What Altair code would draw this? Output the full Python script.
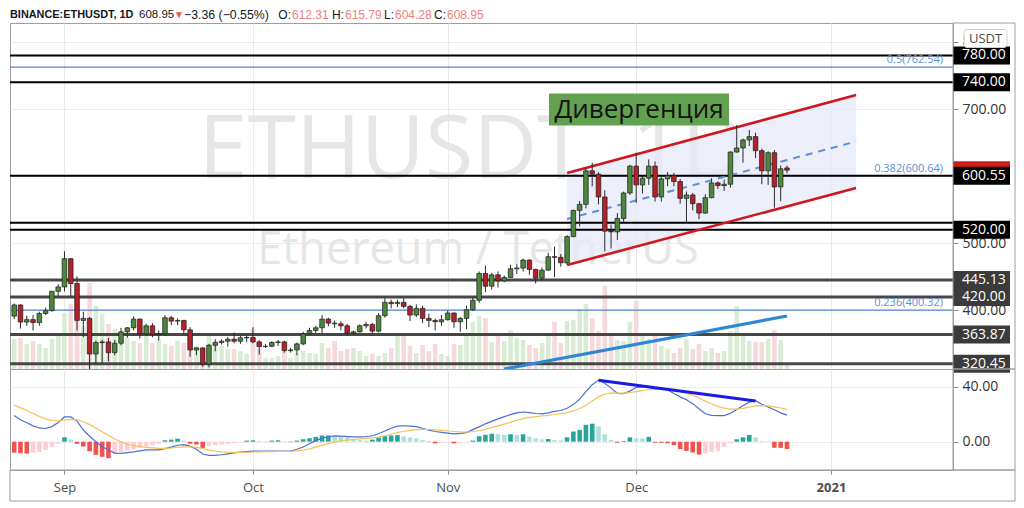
import altair as alt
import numpy as np
import pandas as pd

# ---------------- data ----------------
dates = pd.date_range("2020-08-24", "2020-12-25", freq="D").strftime("%Y-%m-%d").tolist()

opens = [391.4, 408.1, 382.5, 386.2, 381.9, 395.3, 399.6, 428.4, 434.9, 477,
         440, 385, 388, 335, 352, 353, 337, 351, 368, 374,
         387, 365, 377, 364, 365, 389, 384, 385, 371, 341,
         344, 320, 348, 352, 354, 357, 354, 359, 359.5, 353,
         346, 346.5, 352, 353, 340, 341, 350, 365, 370, 374,
         387, 381, 380, 377, 366, 368, 377, 379, 369, 392,
         412, 410, 412, 406, 393, 403, 388, 385, 383, 386,
         396, 383, 388, 401, 415, 455, 436, 453, 444, 449,
         462, 463, 475, 461, 448, 460, 480, 479, 471, 510,
         549, 558, 608, 603, 569, 518, 517, 537, 575, 615,
         587, 597, 615, 569, 596, 601, 592, 567, 572, 559,
         545, 568, 590, 586, 588, 636, 642, 654, 659, 638,
         608, 635, 584, 612.31]
highs = [410, 409, 392, 393, 398, 404, 429, 439, 488, 478,
         451, 398, 390, 355, 356, 359, 356, 374, 375, 391,
         388, 380, 381, 370, 393, 392, 388, 386, 375, 345,
         345, 350, 357, 357, 360, 367, 362, 362, 375, 356,
         350, 354, 356, 355, 344, 352, 368, 374, 377, 393,
         389, 385, 384, 380, 370, 379, 383, 381, 396, 418,
         416, 416, 418, 408, 409, 407, 395, 388, 393, 400,
         397, 390, 407, 420, 458, 467, 456, 458, 452, 468,
         469, 477, 476, 462, 464, 486, 495, 484, 512, 550,
         563, 612, 620, 606, 579, 528, 545, 577, 617, 635,
         601, 625, 622, 599, 606, 605, 596, 577, 575, 560,
         573, 597, 592, 595, 637, 676, 656, 669, 665, 641,
         637, 639, 616, 615.79]
lows = [387, 373, 377, 370, 377, 393, 398, 420, 428, 420,
        370, 360, 308, 320, 321, 324, 333, 348, 359, 370,
        358, 362, 360, 355, 362, 378, 378, 365, 331, 333,
        316, 315, 339, 349, 346, 351, 350, 353, 351, 334,
        344, 345, 347, 337, 337, 333, 348, 364, 366, 366,
        376, 374, 370, 362, 364, 367, 373, 363, 367, 389,
        403, 405, 403, 384, 390, 381, 375, 370, 377, 385,
        374, 368, 372, 399, 411, 427, 431, 434, 442, 449,
        454, 458, 453, 440, 445, 459, 450, 465, 468, 509,
        525, 552, 585, 558, 488, 492, 505, 532, 572, 560,
        574, 587, 562, 562, 585, 585, 559, 530, 549, 536,
        544, 567, 581, 578, 583, 635, 620, 645, 627, 588,
        587, 553, 563, 604.28]
closes = [408.1, 382.5, 386.2, 381.9, 395.3, 399.6, 428.4, 434.9, 477, 440,
          385, 388, 335, 352, 353, 337, 351, 368, 374, 387,
          365, 377, 364, 365, 389, 384, 385, 371, 341, 344,
          320, 348, 352, 354, 357, 354, 359, 359.5, 353, 346,
          346.5, 352, 353, 340, 341, 350, 365, 370, 374, 387,
          381, 380, 377, 366, 368, 377, 379, 369, 392, 412,
          410, 412, 406, 393, 403, 388, 385, 383, 386, 396,
          383, 388, 401, 415, 455, 436, 453, 444, 449, 462,
          463, 475, 461, 448, 460, 480, 479, 471, 510, 549,
          558, 608, 603, 569, 518, 517, 537, 575, 615, 587,
          597, 615, 569, 596, 601, 592, 567, 572, 559, 545,
          568, 590, 586, 588, 636, 642, 654, 659, 638, 608,
          635, 584, 611, 608.95]
volumes = [1200, 1240, 1000, 1120, 1000, 840, 1200, 1400, 2240, 2600,
           3200, 1720, 3440, 2520, 2200, 1800, 1600, 1200, 1240, 1120,
           1040, 1600, 1040, 1200, 1000, 920, 1120, 1040, 1320, 920,
           840, 1320, 1120, 920, 800, 800, 720, 600, 1600, 800,
           440, 440, 520, 720, 440, 640, 720, 640, 600, 1040,
           840, 1120, 720, 800, 840, 720, 520, 600, 520, 640,
           840, 1320, 1400, 920, 640, 960, 720, 1000, 600, 520,
           1000, 960, 1440, 1880, 2120, 2040, 1080, 1440, 1120, 1560,
           1240, 1160, 960, 840, 1040, 1360, 1880, 1040, 1920, 1960,
           2400, 2600, 2040, 1520, 3320, 1360, 1160, 1120, 1880, 2720,
           1360, 1200, 1360, 920, 800, 640, 840, 1200, 800, 1000,
           720, 840, 640, 720, 1520, 2520, 1320, 1120, 1080, 1080,
           1200, 1560, 1160, 160]
macd = [19.0, 16.0, 13.8, 11.5, 10.0, 9.6, 11.0, 14.0, 18.0, 18.0,
        15.0, 8.5, 4.0, 0.0, -3.5, -6.0, -8.3, -8.5, -7.9, -7.4,
        -6.7, -6.0, -6.0, -6.0, -5.0, -3.9, -2.6, -2.1, -3.2, -5.5,
        -9.0, -10.0, -9.9, -9.5, -8.8, -8.1, -7.6, -7.2, -6.9, -6.8,
        -6.9, -6.9, -6.8, -6.9, -6.9, -5.5, -3.9, -1.5, 0.8, 2.6,
        3.6, 4.2, 4.0, 3.7, 3.5, 3.5, 3.6, 4.3, 5.8, 7.8,
        9.8, 11.3, 11.6, 11.3, 11.0, 9.8, 8.4, 7.4, 6.8, 6.2,
        5.7, 6.0, 6.6, 8.8, 10.8, 13.0, 14.8, 16.6, 18.2, 19.7,
        21.0, 21.6, 21.1, 20.5, 20.2, 21.0, 22.0, 22.7, 24.3, 27.0,
        31.0, 36.5, 41.5, 44.8, 42.5, 39.0, 35.2, 35.0, 36.8, 39.6,
        39.8, 40.0, 39.4, 38.6, 37.8, 35.0, 32.6, 30.5, 27.7, 24.0,
        20.3, 19.2, 19.0, 19.0, 20.7, 23.5, 26.2, 28.8, 29.8, 27.2,
        25.2, 23.2, 21.0, 19.3]
signal = [26.6, 24.6, 22.8, 20.5, 18.4, 16.6, 15.5, 15.2, 15.8, 16.2,
          16.0, 14.5, 12.4, 9.9, 7.2, 4.6, 2.0, -0.1, -1.7, -2.8,
          -3.6, -4.1, -4.5, -4.8, -4.8, -4.6, -4.2, -3.8, -3.7, -4.1,
          -5.1, -6.1, -6.9, -7.4, -7.7, -7.8, -7.8, -7.7, -7.5, -7.4,
          -7.3, -7.2, -7.1, -7.1, -7.0, -6.7, -6.1, -5.2, -4.0, -2.7,
          -1.4, -0.3, 0.6, 1.2, 1.7, 2.1, 2.4, 2.8, 3.4, 4.3,
          5.4, 6.6, 7.6, 8.3, 8.8, 9.0, 8.9, 8.6, 8.2, 7.8,
          7.4, 7.1, 7.0, 7.4, 8.1, 9.1, 10.2, 11.5, 12.8, 14.2,
          15.6, 16.8, 17.7, 18.3, 18.7, 19.2, 19.8, 20.4, 21.2, 22.4,
          24.1, 26.6, 29.6, 32.6, 34.6, 35.5, 35.4, 35.4, 35.7, 36.5,
          37.2, 37.8, 38.1, 38.2, 38.1, 37.5, 36.5, 35.3, 33.8, 31.8,
          29.5, 27.4, 25.7, 24.4, 23.7, 23.7, 24.2, 25.1, 26.0, 26.2,
          26.0, 25.4, 24.5, 23.5]
hist = [-8.0, -8.5, -8.7, -8.0, -7.5, -6.0, -4.0, -1.5, 3.2, 1.5,
        -1.5, -3.5, -7.0, -9.5, -11.0, -12.0, -9.0, -7.5, -6.5, -5.5,
        -4.5, -3.5, -2.5, -1.5, 1.0, 1.5, 2.2, 0.8, -1.5, -2.0,
        -4.5, -3.0, -2.5, -2.0, -1.5, -1.0, -0.5, 0.8, 1.0, 0.6,
        0.3, 0.8, 1.0, 0.4, -0.3, 0.8, 1.8, 2.5, 3.5, 4.5,
        4.6, 4.0, 3.5, 3.0, 2.0, 1.2, 0.8, 1.5, 3.0, 4.0,
        4.5, 4.8, 4.0, 3.0, 2.5, 1.2, -0.3, -1.2, -1.0, -0.5,
        -1.2, -1.0, -0.6, 0.8, 4.0, 5.0, 5.8, 5.5, 5.0, 5.4,
        5.0, 5.4, 3.7, 2.5, 1.7, 2.0, 1.2, 1.0, 3.2, 7.4,
        8.6, 12.3, 13.1, 11.1, 5.4, 1.2, -0.7, 0.5, 3.2, 2.5,
        2.4, 3.5, -0.7, -0.8, -1.2, -2.5, -5.4, -6.7, -7.9, -9.4,
        -8.6, -7.4, -6.7, -3.7, -1.2, 1.7, 3.2, 4.9, 3.2, 0.5,
        0.4, -4.4, -4.5, -5.4]

black_levels = [780.00, 740.00, 600.55, 530.7, 520.00]
gray_levels = [445.13, 420.00, 363.87, 320.45]
fib_levels = [762.54, 600.64, 400.32]
fib_labels = ["0.5(762.54)", "0.382(600.64)", "0.236(400.32)"]
box_black = [780.00, 740.00, 600.55, 520.00]
box_gray = [445.13, 420.00, 363.87, 320.45]
last_price = [608.95]

channel_dates = ["2020-11-20", "2021-01-05"]
channel_upper = [604.7, 721.0]
channel_lower = [467.6, 582.4]
channel_mid = [536.2, 651.7]
trend_dates = ["2020-11-10", "2020-12-25"]
trend_prices = [312.6, 391.6]
div_dates = ["2020-11-25", "2020-12-20"]
div_values = [44.7, 29.6]

# ---------------- styling ----------------
W, H1, H2 = 943, 346, 101
FONT = "Open Sans"
HFONT = "Liberation Sans"
GREEN, RED = "#4b873d", "#b3212b"

df = pd.DataFrame(dict(date=dates, open=opens, high=highs, low=lows, close=closes,
                       volume=volumes, macd=macd, signal=signal, hist=hist))
up = df["close"] >= df["open"]
df["ccol"] = np.where(up, GREEN, RED)
df["vcol"] = np.where(up, "#d8edd4", "#f6d9dc")
hcols = []
for i, v in enumerate(hist):
    p = hist[i - 1] if i else None
    if v >= 0:
        hcols.append("#26a69a" if (p is None or v >= p) else "#b2dfdb")
    else:
        hcols.append("#ffcdd2" if (p is not None and v > p) else "#ef5350")
df["hcol"] = hcols

one = pd.DataFrame({"k": [0]})

xscale = alt.Scale(type="utc", domain=[
    alt.DateTime(year=2020, month=8, date=24, hours=3, minutes=1, utc=True),
    alt.DateTime(year=2021, month=1, date=19, hours=15, minutes=7, utc=True)])
month_vals = [alt.DateTime(year=2020, month=m, date=1, utc=True) for m in (9, 10, 11, 12)] + \
             [alt.DateTime(year=2021, month=1, date=1, utc=True)]

xa_price = alt.Axis(values=month_vals, grid=True, gridColor="#e9e9e9", labels=False,
                    ticks=False, domain=False, title=None)
xa_macd = alt.Axis(values=month_vals, grid=True, gridColor="#e9e9e9", title=None,
                   labelExpr="utcmonth(datum.value) == 0 ? utcFormat(datum.value, '%Y') : utcFormat(datum.value, '%b')",
                   labelFontWeight={"condition": {"test": "utcmonth(datum.value) == 0", "value": "bold"}, "value": "normal"},
                   labelFontSize=13, labelColor="#4d4d4d", labelFont=FONT,
                   tickSize=4, tickColor="#8a8a8a", domain=False, labelPadding=7)

yscale_p = alt.Scale(domain=[312.6, 828.3], nice=False, zero=False)
ya_price = alt.Axis(orient="right", values=[400, 500, 600, 700, 800], format=".2f", title=None,
                    grid=True, gridColor="#ececec", tickColor="#8a8a8a", tickSize=5,
                    labelPadding=4, labelFontSize=14, labelColor="#333333", labelFont=FONT, domain=False)
yscale_m = alt.Scale(domain=[-20.6, 52.9], nice=False, zero=False)
ya_macd = alt.Axis(orient="right", values=[0, 40], format=".2f", title=None,
                   grid=True, gridColor="#ececec", tickColor="#8a8a8a", tickSize=5,
                   labelPadding=4, labelFontSize=14, labelColor="#333333", labelFont=FONT, domain=False)


def XP(field="date"):
    return alt.X(f"{field}:T", scale=xscale, axis=xa_price)


def XM(field="date"):
    return alt.X(f"{field}:T", scale=xscale, axis=xa_macd)


def YP(field):
    return alt.Y(f"{field}:Q", scale=yscale_p, axis=ya_price)


def YM(field):
    return alt.Y(f"{field}:Q", scale=yscale_m, axis=ya_macd)


# ---------------- price pane ----------------
wm1 = alt.Chart(one).mark_text(fontSize=88, font=FONT, color="#e6e6e6", align="center", baseline="middle").encode(
    x=alt.value(462), y=alt.value(128.5), text=alt.value("ETHUSDT, 1D"))
wm2 = alt.Chart(one).mark_text(fontSize=45, font=FONT, color="#e6e6e6", align="center", baseline="middle").encode(
    x=alt.value(468), y=alt.value(226.5), text=alt.value("Ethereum / TetherUS"))

vol = alt.Chart(df).mark_bar(size=4.6, clip=True).encode(
    x=XP(), y=alt.Y("volume:Q", scale=alt.Scale(domain=[0, 13840], nice=False), axis=None),
    color=alt.Color("vcol:N", scale=None))

ch_df = pd.DataFrame(dict(date=channel_dates, upper=channel_upper, lower=channel_lower, mid=channel_mid))
ch_fill = alt.Chart(ch_df).mark_area(color="#e6e8f7", opacity=0.75).encode(x=XP(), y=YP("lower"), y2="upper:Q")
ch_up = alt.Chart(ch_df).mark_line(color="#d0161f", strokeWidth=2.6).encode(x=XP(), y=YP("upper"))
ch_lo = alt.Chart(ch_df).mark_line(color="#d0161f", strokeWidth=2.6).encode(x=XP(), y=YP("lower"))
ch_mid = alt.Chart(ch_df).mark_line(color="#5a8fdc", strokeWidth=2, strokeDash=[7, 6]).encode(x=XP(), y=YP("mid"))

fib_df = pd.DataFrame({"price": fib_levels, "label": fib_labels})
fib_rules = alt.Chart(fib_df).mark_rule(color="#4f86d6", strokeWidth=1.2).encode(y=YP("price"))
gray_rules = alt.Chart(pd.DataFrame({"price": gray_levels})).mark_rule(color="#474747", strokeWidth=3).encode(y=YP("price"))
black_rules = alt.Chart(pd.DataFrame({"price": black_levels})).mark_rule(color="#000000", strokeWidth=2).encode(y=YP("price"))

tr_df = pd.DataFrame({"date": trend_dates, "price": trend_prices})
trend = alt.Chart(tr_df).mark_line(color="#2d87d6", strokeWidth=3.2, clip=True).encode(x=XP(), y=YP("price"))

wicks = alt.Chart(df).mark_rule(color="#2b2b2b", strokeWidth=1, clip=True).encode(x=XP(), y=YP("low"), y2="high:Q")
bodies = alt.Chart(df).mark_bar(size=4.6, stroke="#1c1c1c", strokeWidth=0.7, clip=True).encode(
    x=XP(), y=YP("open"), y2="close:Q", color=alt.Color("ccol:N", scale=None))

fib_text = alt.Chart(fib_df).mark_text(align="right", baseline="middle", dy=-7, fontSize=11,
                                       color="#5d8fd6", font=FONT).encode(
    x=alt.value(933), y=YP("price"), text="label:N")

div_box = alt.Chart(one).mark_rect(color="#62a150").encode(
    x=alt.value(539), x2=alt.value(719), y=alt.value(70.5), y2=alt.value(102.5))
div_txt = alt.Chart(one).mark_text(fontSize=26, font=FONT, color="#141414", align="center", baseline="middle").encode(
    x=alt.value(629), y=alt.value(87), text=alt.value("Дивергенция"))


def box_layer(values, fill):
    d = pd.DataFrame({"price": values})
    r = alt.Chart(d).transform_calculate(top="datum.price + 13.4", bot="datum.price - 13.4").mark_rect(
        color=fill).encode(x=alt.value(943), x2=alt.value(1000), y=YP("top"), y2="bot:Q")
    t = alt.Chart(d).mark_text(align="left", baseline="middle", color="white", fontSize=14, font=FONT).encode(
        x=alt.value(952), y=YP("price"), text=alt.Text("price:Q", format=".2f"))
    return [r, t]


red_box = box_layer(last_price, "#d01c1c")[0]
usdt_box = alt.Chart(one).mark_rect(fill="white", stroke="#cfcfcf", strokeWidth=1, cornerRadius=3).encode(
    x=alt.value(954), x2=alt.value(997), y=alt.value(6.5), y2=alt.value(24.5))
usdt_txt = alt.Chart(one).mark_text(fontSize=13, font=FONT, color="#4a4a4a", align="center", baseline="middle").encode(
    x=alt.value(975.5), y=alt.value(15.8), text=alt.value("USDT"))

# (text, x, colour, weight, size, align)
header_parts = [
    ("BINANCE:ETHUSDT, 1D", 0, "#131722", "bold", 10.9, "left"),
    ("608.95", 129, "#131722", "normal", 11.5, "left"),
    ("▼", 164, "#ef5350", "normal", 10, "left"),
    ("−3.36 (−0.55%)", 174, "#131722", "normal", 12.3, "left"),
    ("O:", 281, "#131722", "normal", 12, "right"), ("612.31", 282, "#ec7f7f", "normal", 12, "left"),
    ("H:", 334, "#131722", "normal", 12, "right"), ("615.79", 335, "#ec7f7f", "normal", 12, "left"),
    ("L:", 384, "#131722", "normal", 12, "right"), ("604.28", 385, "#ec7f7f", "normal", 12, "left"),
    ("C:", 436, "#131722", "normal", 12, "right"), ("608.95", 437, "#ec7f7f", "normal", 12, "left"),
]
header = [alt.Chart(one).mark_text(fontSize=s, font=HFONT, color=c, fontWeight=w, align=a, baseline="middle").encode(
    x=alt.value(x), y=alt.value(-8), text=alt.value(t)) for t, x, c, w, s, a in header_parts]

frame_p = alt.Chart(one).mark_rect(fillOpacity=0, stroke="#9e9e9e", strokeWidth=1).encode(
    x=alt.value(943), x2=alt.value(1005), y=alt.value(0), y2=alt.value(H1))

price_group = alt.layer(ch_fill, fib_rules, gray_rules, black_rules, trend, ch_up, ch_lo, ch_mid,
                        wicks, bodies, fib_text, div_box, div_txt, red_box,
                        *box_layer(box_black, "#000000"), *box_layer(box_gray, "#3b3b3b"),
                        usdt_box, usdt_txt, frame_p, *header)

price = alt.layer(wm1, wm2, vol, price_group).resolve_scale(y="independent").properties(width=W, height=H1)

# ---------------- MACD pane ----------------
hbars = alt.Chart(df).mark_bar(size=4.6).encode(
    x=XM(), y=YM("hist"), y2=alt.datum(0), color=alt.Color("hcol:N", scale=None))
mline = alt.Chart(df).mark_line(color="#4a6fd6", strokeWidth=1.2).encode(x=XM(), y=YM("macd"))
sline = alt.Chart(df).mark_line(color="#f2c45a", strokeWidth=1.2).encode(x=XM(), y=YM("signal"))
dv_df = pd.DataFrame({"date": div_dates, "value": div_values})
dline = alt.Chart(dv_df).mark_line(color="#1a1ae0", strokeWidth=3).encode(x=XM(), y=YM("value"))
frame_m = alt.Chart(one).mark_rect(fillOpacity=0, stroke="#9e9e9e", strokeWidth=1).encode(
    x=alt.value(943), x2=alt.value(1005), y=alt.value(0), y2=alt.value(H2))
frame_d = alt.Chart(one).mark_rect(fillOpacity=0, stroke="#9e9e9e", strokeWidth=1).encode(
    x=alt.value(0), x2=alt.value(1005), y=alt.value(H2), y2=alt.value(H2 + 31))

macd_chart = alt.layer(hbars, mline, sline, dline, frame_m, frame_d).properties(width=W, height=H2)

chart = alt.vconcat(price, macd_chart, spacing=0, bounds="flush", padding=0).configure(
    font=FONT, background="white").configure_view(stroke="#9e9e9e", strokeWidth=1)

chart.save("out.html", embed_options={"renderer": "svg", "actions": False})
